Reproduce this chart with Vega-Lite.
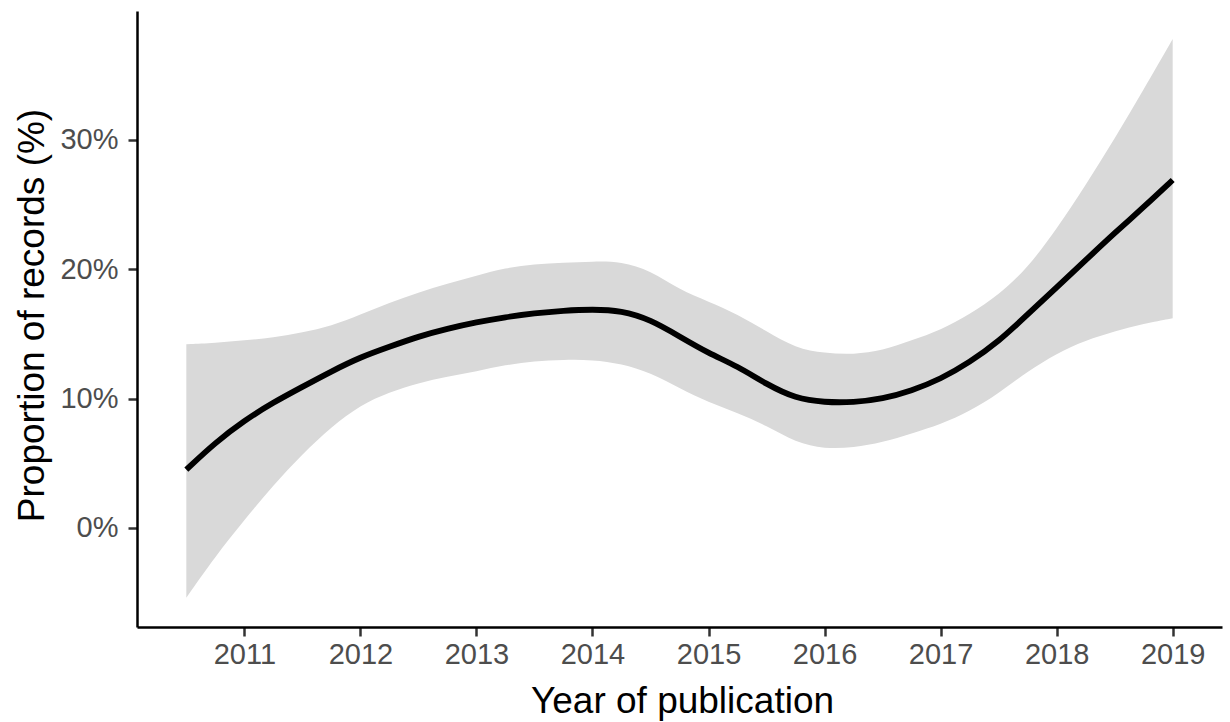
{
  "$schema": "https://vega.github.io/schema/vega-lite/v6.json",
  "autosize": {"type": "none"},
  "width": 1085,
  "height": 616,
  "padding": {"left": 137, "top": 11, "right": 8, "bottom": 95},
  "background": "white",
  "config": {
    "view": {"stroke": null},
    "font": "Liberation Sans, Arial, Helvetica, sans-serif"
  },
  "data": {
    "values": [
      {"year": 2010.5, "fit": 0.045, "lo": -0.054, "hi": 0.142},
      {"year": 2010.75, "fit": 0.066, "lo": -0.022, "hi": 0.143},
      {"year": 2011.0, "fit": 0.083, "lo": 0.006, "hi": 0.145},
      {"year": 2011.25, "fit": 0.097, "lo": 0.033, "hi": 0.147},
      {"year": 2011.5, "fit": 0.109, "lo": 0.057, "hi": 0.151},
      {"year": 2011.75, "fit": 0.121, "lo": 0.078, "hi": 0.156},
      {"year": 2012.0, "fit": 0.132, "lo": 0.095, "hi": 0.165},
      {"year": 2012.25, "fit": 0.140, "lo": 0.105, "hi": 0.174},
      {"year": 2012.5, "fit": 0.148, "lo": 0.112, "hi": 0.182},
      {"year": 2012.75, "fit": 0.154, "lo": 0.117, "hi": 0.189},
      {"year": 2013.0, "fit": 0.159, "lo": 0.121, "hi": 0.195},
      {"year": 2013.25, "fit": 0.163, "lo": 0.126, "hi": 0.201},
      {"year": 2013.5, "fit": 0.166, "lo": 0.129, "hi": 0.204},
      {"year": 2013.75, "fit": 0.168, "lo": 0.130, "hi": 0.205},
      {"year": 2014.0, "fit": 0.169, "lo": 0.130, "hi": 0.206},
      {"year": 2014.25, "fit": 0.168, "lo": 0.127, "hi": 0.206},
      {"year": 2014.5, "fit": 0.161, "lo": 0.120, "hi": 0.199},
      {"year": 2014.75, "fit": 0.148, "lo": 0.108, "hi": 0.184},
      {"year": 2015.0, "fit": 0.135, "lo": 0.097, "hi": 0.175},
      {"year": 2015.25, "fit": 0.125, "lo": 0.089, "hi": 0.165},
      {"year": 2015.5, "fit": 0.111, "lo": 0.079, "hi": 0.152},
      {"year": 2015.75, "fit": 0.100, "lo": 0.066, "hi": 0.139},
      {"year": 2016.0, "fit": 0.097, "lo": 0.061, "hi": 0.135},
      {"year": 2016.25, "fit": 0.097, "lo": 0.062, "hi": 0.134},
      {"year": 2016.5, "fit": 0.0997, "lo": 0.066, "hi": 0.137},
      {"year": 2016.75, "fit": 0.106, "lo": 0.073, "hi": 0.145},
      {"year": 2017.0, "fit": 0.115, "lo": 0.080, "hi": 0.153},
      {"year": 2017.25, "fit": 0.128, "lo": 0.090, "hi": 0.165},
      {"year": 2017.5, "fit": 0.144, "lo": 0.104, "hi": 0.180},
      {"year": 2017.75, "fit": 0.165, "lo": 0.121, "hi": 0.201},
      {"year": 2018.0, "fit": 0.186, "lo": 0.135, "hi": 0.231},
      {"year": 2018.25, "fit": 0.207, "lo": 0.145, "hi": 0.265},
      {"year": 2018.5, "fit": 0.228, "lo": 0.152, "hi": 0.301},
      {"year": 2018.75, "fit": 0.248, "lo": 0.158, "hi": 0.339},
      {"year": 2019.0, "fit": 0.269, "lo": 0.162, "hi": 0.378}
    ]
  },
  "encoding": {
    "x": {
      "field": "year",
      "type": "quantitative",
      "scale": {"domain": [2010.075, 2019.425], "nice": false, "zero": false},
      "axis": {
        "title": "Year of publication",
        "values": [2011, 2012, 2013, 2014, 2015, 2016, 2017, 2018, 2019],
        "format": "d",
        "grid": false,
        "domainColor": "black",
        "domainWidth": 2.5,
        "tickColor": "#333333",
        "tickWidth": 2.5,
        "tickSize": 9,
        "labelFontSize": 29,
        "labelColor": "#4d4d4d",
        "labelPadding": 4,
        "labelFlush": false,
        "titleFontSize": 37,
        "titleFontWeight": "normal",
        "titleColor": "black",
        "titleX": 545,
        "titleY": 85,
        "titleBaseline": "alphabetic",
        "titleAnchor": "middle"
      }
    }
  },
  "layer": [
    {
      "mark": {"type": "area", "color": "#d9d9d9", "opacity": 1, "interpolate": "basis"},
      "encoding": {
        "y": {
          "field": "lo",
          "type": "quantitative",
          "scale": {"domain": [-0.0767, 0.3997], "nice": false, "zero": false},
          "axis": {
            "title": "Proportion of records (%)",
            "values": [0, 0.1, 0.2, 0.3],
            "format": ".0%",
            "grid": false,
            "domainColor": "black",
            "domainWidth": 2.5,
            "tickColor": "#333333",
            "tickWidth": 2.5,
            "tickSize": 9,
            "labelFontSize": 29,
            "labelColor": "#4d4d4d",
            "labelPadding": 10,
            "titleFontSize": 37,
            "titleFontWeight": "normal",
            "titleColor": "black",
            "titleAngle": -90,
            "titleX": -105,
            "titleY": 304,
            "titleAlign": "center",
            "titleBaseline": "middle"
          }
        },
        "y2": {"field": "hi"}
      }
    },
    {
      "mark": {"type": "line", "color": "black", "strokeWidth": 5.8, "interpolate": "basis"},
      "encoding": {
        "y": {"field": "fit", "type": "quantitative"}
      }
    }
  ]
}
